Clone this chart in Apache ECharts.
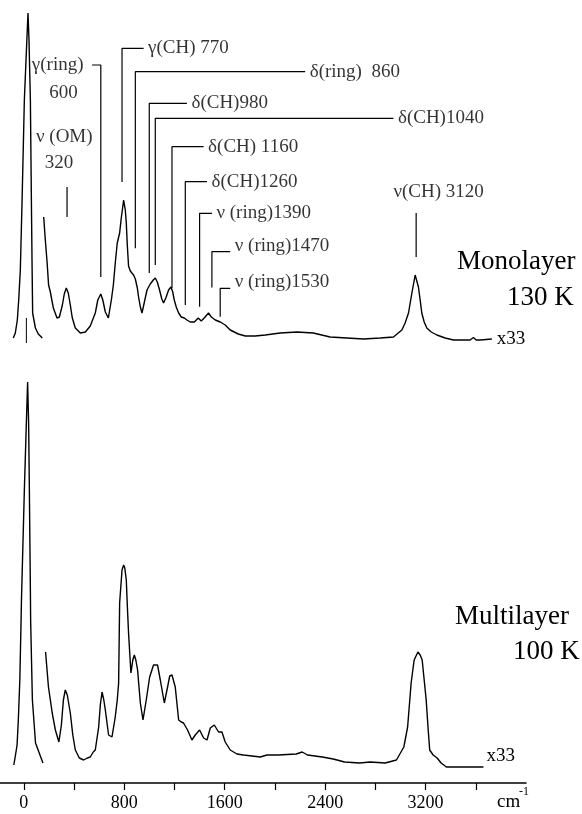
<!DOCTYPE html>
<html>
<head>
<meta charset="utf-8">
<script src="https://cdn.jsdelivr.net/npm/echarts@6/dist/echarts.min.js"></script>
<style>
html,body{margin:0;padding:0;background:#fff;}
#chart{width:582px;height:814px;}
</style>
</head>
<body>
<div id="chart"></div>
<script>
// ---------- DATA (wavenumber in cm^-1, intensity in arbitrary units) ----------
// Monolayer 130 K : elastic peak (unscaled)
const monoElasticWn  = [-84,-68,-52,-41,-28,-14,4,24,33,41,52,60,65,70,92,115,147];
const monoElasticInt = [12,17,30,50,80,150,250,310,337,310,250,150,90,37,22,16,12];
// zero marker under monolayer elastic peak
const monoZeroWn  = [20,20];
const monoZeroInt = [32,7];
// Monolayer 130 K : loss region (x33)
const monoWn  = [158,171,185,197,211,235,264,283,307,322,338,354,370,386,410,450,490,529,569,589,613,629,649,673,697,713,729,744,763,776,795,808,816,824,834,848,861,874,888,904,914,928,941,955,981,1007,1031,1047,1063,1081,1099,1113,1131,1153,1172,1186,1198,1214,1233,1254,1278,1299,1326,1358,1389,1413,1437,1471,1493,1525,1565,1604,1644,1708,1764,1843,1923,2042,2175,2305,2440,2573,2705,2838,2944,3011,3037,3064,3091,3117,3143,3157,3170,3189,3210,3245,3290,3356,3422,3555,3581,3603,3635,3728];
const monoInt = [133,110,88,65,58,42,32,33,45,56,62,57,45,32,22,17,18,24,37,50,56,50,38,32,50,65,88,107,117,132,150,140,127,105,84,79,78,75,71,62,53,43,37,45,60,66,70,72,68,60,51,47,52,60,63,58,50,43,37,33,32,30,28,28,32,29,32,37,33,30,28,25,20,16,14,14,15,17,18,17,13,12,11,12,13,20,27,37,57,75,63,50,37,28,22,18,15,12,10,10,12.5,10,10,11];
// Multilayer 100 K : elastic peak (unscaled)
const multiElasticWn  = [-80,-69,-54,-44,-32,-22,-19,4,20,30,38,44,52,54,68,93,152];
const multiElasticInt = [18,26,38,63,103,163,183,293,360,401,360,293,193,163,83,40,20];
// Multilayer 100 K : loss region (x33)
const multiWn  = [173,196,226,251,279,299,315,330,346,370,390,410,442,476,506,529,553,569,596,609,623,637,649,675,702,728,744,755,763,782,795,804,816,824,834,853,868,880,892,906,928,949,975,1002,1033,1065,1087,1119,1145,1162,1180,1206,1233,1254,1272,1304,1339,1365,1400,1432,1459,1485,1517,1551,1578,1604,1644,1697,1750,1883,1936,2025,2170,2217,2260,2377,2464,2555,2674,2759,2878,2968,3027,3057,3085,3109,3139,3157,3173,3189,3205,3221,3233,3260,3292,3324,3366,3499,3661];
const multiInt = [131,96,70,53,41,58,83,93,88,70,48,33,25,23,25,26,31,33,56,78,91,83,73,48,46,66,83,100,180,213,218,215,203,178,150,110,123,128,123,113,80,63,83,106,118,118,103,80,96,107,108,96,63,61,60,53,43,48,53,45,43,55,58,51,51,41,33,29,28,26,28,28,29,31,28,26,24,21,20,21,20,23,36,56,100,123,131,128,123,103,83,53,33,28,25,20,16,16,16];

// Axis ticks / labels
const tickValues  = [0,400,800,1200,1600,2000,2400,2800,3200,3600];
const labelValues = [0,800,1600,2400,3200];

// Peak assignments (monolayer): leader = label end, corner, foot
const assignText   = ['γ(ring)','γ(CH) 770','δ(ring)  860','δ(CH)980','δ(CH)1040','δ(CH) 1160','δ(CH)1260','ν (ring)1390','ν (ring)1470','ν (ring)1530'];
const assignPeakWn = [613,782,888,999,1047,1180,1286,1400,1498,1564];
const assignEndWn  = [543,954,2241,1299,2944,1432,1459,1498,1644,1644];
const assignTop    = [285,301.7,278.3,246.7,231.7,203.3,168.3,136.7,98.3,61.7];
const assignFoot   = [73,168,101.7,77,85,62,45,43.3,62.5,33.3];
</script>
<script>
const zip = (a,b) => a.map((v,i)=>[v,b[i]]);
const FONT = '"Liberation Serif","Times New Roman",serif';
const XMIN = -190, XMAX = 4000;
const lineStyle = {color:'#000', width:1.4};
const series = [];

function curve(name, wn, it, gi, extra){
  series.push(Object.assign({
    name, type:'line', xAxisIndex:gi, yAxisIndex:gi, data:zip(wn,it),
    symbol:'none', smooth:false, lineStyle:lineStyle, silent:true, z:3
  }, extra||{}));
}
curve('monoElastic', monoElasticWn, monoElasticInt, 0);
curve('monoZero', monoZeroWn, monoZeroInt, 0, {lineStyle:{color:'#000',width:1}});
curve('mono', monoWn, monoInt, 0, {endLabel:{show:true, formatter:'x33', color:'#000', fontSize:19, fontFamily:FONT, distance:5}});
curve('multiElastic', multiElasticWn, multiElasticInt, 1);
curve('multi', multiWn, multiInt, 1, {endLabel:{show:true, formatter:'x33', color:'#000', fontSize:19, fontFamily:FONT, distance:3, offset:[0,-11]}});

// assignment leader lines
for (let i=0;i<assignText.length;i++){
  series.push({
    type:'line', xAxisIndex:0, yAxisIndex:0, symbol:'none', silent:true,
    lineStyle:{color:'#000', width:1.2},
    data:[[assignEndWn[i],assignTop[i]],[assignPeakWn[i],assignTop[i]],[assignPeakWn[i],assignFoot[i]]]
  });
}
// simple markers
series.push({type:'line',xAxisIndex:0,yAxisIndex:0,symbol:'none',silent:true,lineStyle:{color:'#000',width:1.2},data:[[344,163],[344,133]]});
series.push({type:'line',xAxisIndex:0,yAxisIndex:0,symbol:'none',silent:true,lineStyle:{color:'#000',width:1.2},data:[[3125,137],[3125,93]]});

// assignment texts
const txtLabel = (pos, dist, off) => ({show:true, position:pos, distance:dist, offset:off||[0,0], color:'#000', fontSize:19, fontFamily:FONT, formatter:p=>p.name});
const textPts = [];
for (let i=0;i<assignText.length;i++){
  const left = i===0;
  const off = (i>=8) ? [0,-6] : [0,0];
  textPts.push({name:assignText[i], value:[assignEndWn[i],assignTop[i]], label:txtLabel(left?'left':'right', left?8:4, off)});
}
textPts.push({name:'600', value:[315,257], label:txtLabel('inside',0)});
textPts.push({name:'ν (OM)', value:[322,213], label:txtLabel('inside',0)});
textPts.push({name:'320', value:[280,187], label:txtLabel('inside',0)});
textPts.push({name:'ν(CH) 3120', value:[2940,158], label:txtLabel('right',0)});
series.push({type:'scatter', xAxisIndex:0, yAxisIndex:0, symbolSize:1, itemStyle:{color:'rgba(0,0,0,0)'}, silent:true, data:textPts});

const chart = echarts.init(document.getElementById('chart'), null, {renderer:'canvas'});
chart.setOption({
  animation:false,
  backgroundColor:'#fff',
  grid:[
    {left:0, width:526, top:0, height:350},
    {left:0, width:526, top:370, height:413}
  ],
  xAxis:[
    {type:'value', gridIndex:0, min:XMIN, max:XMAX, show:false},
    {type:'value', gridIndex:1, min:XMIN, max:XMAX,
     axisLine:{show:true, lineStyle:{color:'#000', width:1.6}},
     axisTick:{show:true, inside:false, length:7, customValues:tickValues, lineStyle:{color:'#000', width:1.2}},
     axisLabel:{show:true, customValues:labelValues, margin:11, color:'#000', fontSize:18, fontFamily:FONT, formatter:v=>String(Math.round(v))},
     splitLine:{show:false}}
  ],
  yAxis:[
    {type:'value', gridIndex:0, min:0, max:350, show:false},
    {type:'value', gridIndex:1, min:0, max:413, show:false}
  ],
  series:series,
  graphic:[
    {type:'text', left:457, top:248, style:{text:'Monolayer', fill:'#000', font:'27px '+FONT}},
    {type:'text', left:507, top:284, style:{text:'130 K', fill:'#000', font:'27px '+FONT}},
    {type:'text', left:455, top:603, style:{text:'Multilayer', fill:'#000', font:'27px '+FONT}},
    {type:'text', left:513, top:638, style:{text:'100 K', fill:'#000', font:'27px '+FONT}},
    {type:'text', left:497, top:793, style:{text:'cm', fill:'#000', font:'19px '+FONT}},
    {type:'text', left:519, top:786, style:{text:'-1', fill:'#000', font:'12px '+FONT}}
  ]
});
</script>
</body>
</html>
